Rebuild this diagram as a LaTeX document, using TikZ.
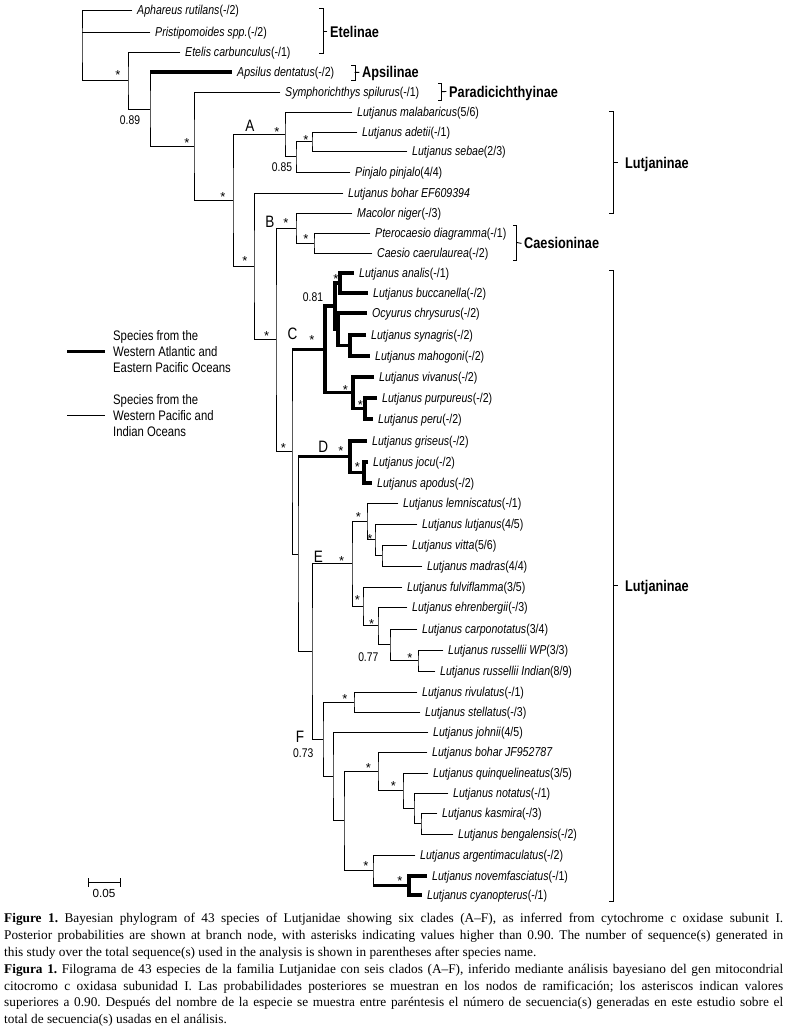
\documentclass[tikz,border=0pt]{standalone}
\usepackage{fontspec}
\setmainfont{Liberation Serif}
\newfontfamily\narfont[FakeStretch=0.82]{Liberation Sans}
\newfontfamily\arfont{Liberation Sans}
\tikzset{
  br/.style={line width=0.9pt, line cap=rect},
  thk/.style={line width=3.3pt, line cap=butt, line join=miter},
  leaf/.style={anchor=base west, inner sep=0pt, xshift=5pt, yshift=-4.5pt, font=\narfont\fontsize{12.9}{14}\selectfont},
  ast/.style={anchor=base, inner sep=0pt, yshift=-7.3pt, font=\arfont\fontsize{13}{14}\selectfont},
  pp/.style={inner sep=0pt, font=\narfont\fontsize{12.6}{14}\selectfont},
  cladelab/.style={inner sep=0pt, font=\narfont\fontsize{16.5}{18}\selectfont},
  subfam/.style={anchor=west, inner xsep=3pt, inner ysep=0pt, text height=11pt, text depth=0pt, font=\narfont\bfseries\fontsize{15.5}{17}\selectfont},
  legtext/.style={anchor=west, align=left, inner sep=0pt, font=\narfont\fontsize{13.8}{16}\selectfont},
  capline/.style={anchor=base west, inner sep=0pt, font=\fontsize{13.3}{16.8}\selectfont\frenchspacing},
  scalelab/.style={inner sep=0pt, font=\arfont\fontsize{11.7}{13}\selectfont},
}
\begin{document}
\begin{tikzpicture}[x=1pt,y=-1pt]
\fill[white] (0,0) rectangle (787,1028);
\useasboundingbox (0,0) rectangle (787,1028);
% ---------- leaf tips
\coordinate (Aph) at (132,10);
\coordinate (Pri) at (150,32);
\coordinate (Ete) at (180,52);
\coordinate (Aps) at (232,72);
\coordinate (Sym) at (280,92);
\coordinate (mal) at (352,112);
\coordinate (ade) at (357,132);
\coordinate (seb) at (407,151);
\coordinate (Pin) at (350,172);
\coordinate (bohEF) at (343,193);
\coordinate (Mac) at (352,213);
\coordinate (Pte) at (370,233);
\coordinate (Cae) at (372,253);
\coordinate (ana) at (354,273);
\coordinate (buc) at (368,293);
\coordinate (Ocy) at (367,313);
\coordinate (syn) at (366,335);
\coordinate (mah) at (370,356);
\coordinate (viv) at (374,377);
\coordinate (pur) at (377,398);
\coordinate (per) at (373,419);
\coordinate (gri) at (367,441);
\coordinate (joc) at (368,462);
\coordinate (apo) at (372,483);
\coordinate (lem) at (398,503);
\coordinate (lut) at (417,524);
\coordinate (vit) at (407,545);
\coordinate (mad) at (422,566);
\coordinate (ful) at (402,587);
\coordinate (ehr) at (407,607);
\coordinate (car) at (417,629);
\coordinate (rWP) at (443,650);
\coordinate (rIn) at (435,671);
\coordinate (riv) at (417,692);
\coordinate (ste) at (420,712);
\coordinate (joh) at (428,732);
\coordinate (bJF) at (427,752);
\coordinate (qui) at (428,773);
\coordinate (not) at (448,793);
\coordinate (kas) at (437,813);
\coordinate (ben) at (453,834);
\coordinate (arg) at (415,855);
\coordinate (nov) at (427,876);
\coordinate (cya) at (422,895);
% ---------- internal nodes
\coordinate (nAB) at (312,141.5);
\coordinate (nA2) at (296,156.75);
\coordinate (nA) at (285,134.4);
\coordinate (nCae) at (314,243);
\coordinate (nB) at (296,228);
\coordinate (nana) at (340,283);
\coordinate (nsyn) at (350,345.5);
\coordinate (nOcy) at (338,329.25);
\coordinate (n081) at (335,306.1);
\coordinate (npur) at (365,408.5);
\coordinate (nviv) at (353,392.75);
\coordinate (nC) at (325,349.4);
\coordinate (njoc) at (364,472.5);
\coordinate (nD) at (350,456.75);
\coordinate (nvit) at (382,555.5);
\coordinate (nlut) at (375,539.75);
\coordinate (nlem) at (367,521.4);
\coordinate (nrus) at (418,660.5);
\coordinate (ncar) at (390,644.75);
\coordinate (nehr) at (378,625.9);
\coordinate (nful) at (363,606.4);
\coordinate (nE) at (352,563.9);
\coordinate (nriv) at (354,702);
\coordinate (nkas) at (421,823.5);
\coordinate (nnot) at (414,808.25);
\coordinate (nqui) at (403,790.6);
\coordinate (nbJF) at (378,771.3);
\coordinate (nnov) at (409,885.5);
\coordinate (narg) at (373,870.25);
\coordinate (nF3) at (344,820.8);
\coordinate (nF2) at (333,776.4);
\coordinate (nF) at (323,739.2);
\coordinate (nEF) at (312,651.5);
\coordinate (nDEF) at (298,554.1);
\coordinate (nCDEF) at (292,451.75);
\coordinate (nBC) at (276,339.9);
\coordinate (nBohB) at (254,266.4);
\coordinate (nAr) at (233,200.4);
\coordinate (nSym) at (194,146.2);
\coordinate (nAps) at (150,109.1);
\coordinate (nEte) at (128,80.5);
\coordinate (root) at (82,45.25);
% ---------- branches
\draw[br] (Aph) -| (root) |- (nEte);
\draw[br] (root |- Pri) -- (Pri);
\draw[br] (Ete) -| (nEte) |- (nAps);
\draw[br] (nAps |- Aps) -- (nAps) |- (nSym);
\draw[thk] (nAps |- Aps) -- (Aps);
\draw[br] (Sym) -| (nSym) |- (nAr);
\draw[br] (nA) -| (nAr) |- (nBohB);
\draw[br] (mal) -| (nA) |- (nA2);
\draw[br] (nAB) -| (nA2) |- (Pin);
\draw[br] (ade) -| (nAB) |- (seb);
\draw[br] (bohEF) -| (nBohB) |- (nBC);
\draw[br] (nB) -| (nBC) |- (nCDEF);
\draw[br] (Mac) -| (nB) |- (nCae);
\draw[br] (Pte) -| (nCae) |- (Cae);
% clade C
\draw[br] (nCDEF |- nC) -- (nCDEF) |- (nDEF);
\draw[thk] (nCDEF |- nC) -- (nC);
\draw[thk] (n081) -| (nC) |- (nviv);
\draw[thk] (nana) -| (n081) |- (nOcy);
\draw[thk] (ana) -| (nana) |- (buc);
\draw[thk] (Ocy) -| (nOcy) |- (nsyn);
\draw[thk] (syn) -| (nsyn) |- (mah);
\draw[thk] (viv) -| (nviv) |- (npur);
\draw[thk] (pur) -| (npur) |- (per);
% clade D
\draw[br] (nDEF |- nD) -- (nDEF) |- (nEF);
\draw[thk] (nDEF |- nD) -- (nD);
\draw[thk] (gri) -| (nD) |- (njoc);
\draw[thk] (joc) -| (njoc) |- (apo);
% clade E
\draw[br] (nE) -| (nEF) |- (nF);
\draw[br] (nlem) -| (nE) |- (nful);
\draw[br] (lem) -| (nlem) |- (nlut);
\draw[br] (lut) -| (nlut) |- (nvit);
\draw[br] (vit) -| (nvit) |- (mad);
\draw[br] (ful) -| (nful) |- (nehr);
\draw[br] (ehr) -| (nehr) |- (ncar);
\draw[br] (car) -| (ncar) |- (nrus);
\draw[br] (rWP) -| (nrus) |- (rIn);
% clade F
\draw[br] (nriv) -| (nF) |- (nF2);
\draw[br] (riv) -| (nriv) |- (ste);
\draw[br] (joh) -| (nF2) |- (nF3);
\draw[br] (nbJF) -| (nF3) |- (narg);
\draw[br] (bJF) -| (nbJF) |- (nqui);
\draw[br] (qui) -| (nqui) |- (nnot);
\draw[br] (not) -| (nnot) |- (nkas);
\draw[br] (kas) -| (nkas) |- (ben);
\draw[br] (arg) -| (narg) -- (narg |- nnov);
\draw[thk] (narg |- nnov) -- (nnov);
\draw[thk] (nov) -| (nnov) |- (cya);
% ---------- leaf labels
\node[leaf] (lAph) at (Aph) {\textit{Aphareus rutilans}(-/2)};
\node[leaf] (lPri) at (Pri) {\textit{Pristipomoides spp.}(-/2)};
\node[leaf] (lEte) at (Ete) {\textit{Etelis carbunculus}(-/1)};
\node[leaf] (lAps) at (Aps) {\textit{Apsilus dentatus}(-/2)};
\node[leaf] (lSym) at (Sym) {\textit{Symphorichthys spilurus}(-/1)};
\node[leaf] (lmal) at (mal) {\textit{Lutjanus malabaricus}(5/6)};
\node[leaf] (lade) at (ade) {\textit{Lutjanus adetii}(-/1)};
\node[leaf] (lseb) at (seb) {\textit{Lutjanus sebae}(2/3)};
\node[leaf] (lPin) at (Pin) {\textit{Pinjalo pinjalo}(4/4)};
\node[leaf] (lbohEF) at (bohEF) {\textit{Lutjanus bohar EF609394}};
\node[leaf] (lMac) at (Mac) {\textit{Macolor niger}(-/3)};
\node[leaf] (lPte) at (Pte) {\textit{Pterocaesio diagramma}(-/1)};
\node[leaf] (lCae) at (Cae) {\textit{Caesio caerulaurea}(-/2)};
\node[leaf] (lana) at (ana) {\textit{Lutjanus analis}(-/1)};
\node[leaf] (lbuc) at (buc) {\textit{Lutjanus buccanella}(-/2)};
\node[leaf] (lOcy) at (Ocy) {\textit{Ocyurus chrysurus}(-/2)};
\node[leaf] (lsyn) at (syn) {\textit{Lutjanus synagris}(-/2)};
\node[leaf] (lmah) at (mah) {\textit{Lutjanus mahogoni}(-/2)};
\node[leaf] (lviv) at (viv) {\textit{Lutjanus vivanus}(-/2)};
\node[leaf] (lpur) at (pur) {\textit{Lutjanus purpureus}(-/2)};
\node[leaf] (lper) at (per) {\textit{Lutjanus peru}(-/2)};
\node[leaf] (lgri) at (gri) {\textit{Lutjanus griseus}(-/2)};
\node[leaf] (ljoc) at (joc) {\textit{Lutjanus jocu}(-/2)};
\node[leaf] (lapo) at (apo) {\textit{Lutjanus apodus}(-/2)};
\node[leaf] (llem) at (lem) {\textit{Lutjanus lemniscatus}(-/1)};
\node[leaf] (llut) at (lut) {\textit{Lutjanus lutjanus}(4/5)};
\node[leaf] (lvit) at (vit) {\textit{Lutjanus vitta}(5/6)};
\node[leaf] (lmad) at (mad) {\textit{Lutjanus madras}(4/4)};
\node[leaf] (lful) at (ful) {\textit{Lutjanus fulviflamma}(3/5)};
\node[leaf] (lehr) at (ehr) {\textit{Lutjanus ehrenbergii}(-/3)};
\node[leaf] (lcar) at (car) {\textit{Lutjanus carponotatus}(3/4)};
\node[leaf] (lrWP) at (rWP) {\textit{Lutjanus russellii WP}(3/3)};
\node[leaf] (lrIn) at (rIn) {\textit{Lutjanus russellii Indian}(8/9)};
\node[leaf] (lriv) at (riv) {\textit{Lutjanus rivulatus}(-/1)};
\node[leaf] (lste) at (ste) {\textit{Lutjanus stellatus}(-/3)};
\node[leaf] (ljoh) at (joh) {\textit{Lutjanus johnii}(4/5)};
\node[leaf] (lbJF) at (bJF) {\textit{Lutjanus bohar JF952787}};
\node[leaf] (lqui) at (qui) {\textit{Lutjanus quinquelineatus}(3/5)};
\node[leaf] (lnot) at (not) {\textit{Lutjanus notatus}(-/1)};
\node[leaf] (lkas) at (kas) {\textit{Lutjanus kasmira}(-/3)};
\node[leaf] (lben) at (ben) {\textit{Lutjanus bengalensis}(-/2)};
\node[leaf] (larg) at (arg) {\textit{Lutjanus argentimaculatus}(-/2)};
\node[leaf] (lnov) at (nov) {\textit{Lutjanus novemfasciatus}(-/1)};
\node[leaf] (lcya) at (cya) {\textit{Lutjanus cyanopterus}(-/1)};
% ---------- support asterisks
\node[ast] (s1) at (118,72) {*};
\node[ast] (s2) at (187,140) {*};
\node[ast] (s3) at (223,194) {*};
\node[ast] (s4) at (277,129) {*};
\node[ast] (s5) at (306,137) {*};
\node[ast] (s6) at (245,258.5) {*};
\node[ast] (s7) at (286,220) {*};
\node[ast] (s8) at (306,236) {*};
\node[ast] (s9) at (266.7,333.5) {*};
\node[ast] (s10) at (283.3,445) {*};
\node[ast] (s11) at (312,337) {*};
\node[ast] (s12) at (336,276.5) {*};
\node[ast] (s13) at (345.5,387.5) {*};
\node[ast] (s14) at (360.5,402) {*};
\node[ast] (s15) at (341,448.3) {*};
\node[ast] (s16) at (357.3,464) {*};
\node[ast] (s17) at (341.7,558.3) {*};
\node[ast] (s18) at (358.3,514) {*};
\node[ast] (s19) at (370,536) {*};
\node[ast] (s20) at (357.3,596.7) {*};
\node[ast] (s21) at (371.7,621) {*};
\node[ast] (s22) at (410,655) {*};
\node[ast] (s23) at (345,696) {*};
\node[ast] (s24) at (368.3,765) {*};
\node[ast] (s25) at (393.3,783.3) {*};
\node[ast] (s26) at (366,863.3) {*};
\node[ast] (s27) at (400,878.3) {*};
% ---------- posterior probabilities
\node[pp] (p89) at (130,120) {0.89};
\node[pp] (p85) at (282,167) {0.85};
\node[pp] (p81) at (313,297) {0.81};
\node[pp] (p77) at (368.3,656.7) {0.77};
\node[pp] (p73) at (303.3,752.7) {0.73};
% ---------- clade letters
\node[cladelab] (cA) at (250,126) {A};
\node[cladelab] (cB) at (270,222) {B};
\node[cladelab] (cC) at (292.5,334) {C};
\node[cladelab] (cD) at (323.3,446.7) {D};
\node[cladelab] (cE) at (318.3,556.7) {E};
\node[cladelab] (cF) at (300,737.3) {F};
% ---------- subfamily brackets
\coordinate (EtT) at (323,8.3); \coordinate (EtB) at (323,53.3); \coordinate (EtM) at (323,31.5);
\draw[br] ([xshift=-3.5pt]EtT) -- (EtT) -- (EtB) -- ([xshift=-3.5pt]EtB);
\node[subfam] (sEt) at (327,31.5) {Etelinae};
\draw[br] (EtM) -- (sEt.west);
\coordinate (ApT) at (355,65); \coordinate (ApB) at (355,80); \coordinate (ApM) at (355,72.5);
\draw[br] ([xshift=-3.5pt]ApT) -- (ApT) -- (ApB) -- ([xshift=-3.5pt]ApB);
\node[subfam] (sAp) at (359,72.3) {Apsilinae};
\draw[br] (ApM) -- (sAp.west);
\coordinate (PaT) at (441.7,83.3); \coordinate (PaB) at (441.7,100); \coordinate (PaM) at (441.7,91.7);
\draw[br] ([xshift=-3.5pt]PaT) -- (PaT) -- (PaB) -- ([xshift=-3.5pt]PaB);
\node[subfam] (sPa) at (446,91.5) {Paradicichthyinae};
\draw[br] (PaM) -- (sPa.west);
\coordinate (LuT) at (613.3,111.7); \coordinate (LuB) at (613.3,213.3); \coordinate (LuM) at (613.3,162.5);
\draw[br] ([xshift=-3.5pt]LuT) -- (LuT) -- (LuB) -- ([xshift=-3.5pt]LuB);
\node[subfam, inner xsep=0pt] (sLu) at (625,163.3) {Lutjaninae};
\draw[br] (LuM) -- ([xshift=4pt]LuM);
\coordinate (CaT) at (516.7,225); \coordinate (CaB) at (516.7,260); \coordinate (CaM) at (516.7,242.5);
\draw[br] ([xshift=-3.5pt]CaT) -- (CaT) -- (CaB) -- ([xshift=-3.5pt]CaB);
\node[subfam] (sCa) at (521,243.3) {Caesioninae};
\draw[br] (CaM) -- (sCa.west);
\coordinate (LwT) at (613.3,270); \coordinate (LwB) at (613.3,901); \coordinate (LwM) at (613.3,585.5);
\draw[br] ([xshift=-3.5pt]LwT) -- (LwT) -- (LwB) -- ([xshift=-3.5pt]LwB);
\node[subfam, inner xsep=0pt] (sLw) at (625,585.5) {Lutjaninae};
\draw[br] (LwM) -- ([xshift=4pt]LwM);
% ---------- legend
\coordinate (lg1a) at (67,351.7); \coordinate (lg1b) at (105,351.7);
\draw[line width=3.3pt] (lg1a) -- (lg1b);
\node[legtext] (lgt1) at (113,352) {Species from the\\Western Atlantic and\\Eastern Pacific Oceans};
\coordinate (lg2a) at (67,415.5); \coordinate (lg2b) at (105,415.5);
\draw[line width=0.9pt] (lg2a) -- (lg2b);
\node[legtext] (lgt2) at (113,416) {Species from the\\Western Pacific and\\Indian Oceans};
% ---------- scale bar
\coordinate (sbL) at (88,882.7); \coordinate (sbR) at (120,882.7);
\draw[br] (sbL) -- (sbR);
\draw[br] ([yshift=4pt]sbL) -- ([yshift=-4pt]sbL);
\draw[br] ([yshift=4pt]sbR) -- ([yshift=-4pt]sbR);
\node[scalelab] (sbt) at (104,893.5) {0.05};
% ---------- caption
\node[capline] (cap1) at (4,922.8) {\makebox[779pt][s]{\textbf{Figure 1.} Bayesian phylogram of 43 species of Lutjanidae showing six clades (A--F), as inferred from cytochrome c oxidase subunit I.}};
\node[capline] (cap2) at (4,939.6) {\makebox[779pt][s]{Posterior probabilities are shown at branch node, with asterisks indicating values higher than 0.90. The number of sequence(s) generated in}};
\node[capline] (cap3) at (4,956.4) {this study over the total sequence(s) used in the analysis is shown in parentheses after species name.};
\node[capline] (cap4) at (4,973.2) {\makebox[779pt][s]{\textbf{Figura 1.} Filograma de 43 especies de la familia Lutjanidae con seis clados (A--F), inferido mediante análisis bayesiano del gen mitocondrial}};
\node[capline] (cap5) at (4,990) {\makebox[779pt][s]{citocromo c oxidasa subunidad I. Las probabilidades posteriores se muestran en los nodos de ramificación; los asteriscos indican valores}};
\node[capline] (cap6) at (4,1006.8) {\makebox[779pt][s]{superiores a 0.90. Después del nombre de la especie se muestra entre paréntesis el número de secuencia(s) generadas en este estudio sobre el}};
\node[capline] (cap7) at (4,1023.6) {total de secuencia(s) usadas en el análisis.};
\end{tikzpicture}
\end{document}
